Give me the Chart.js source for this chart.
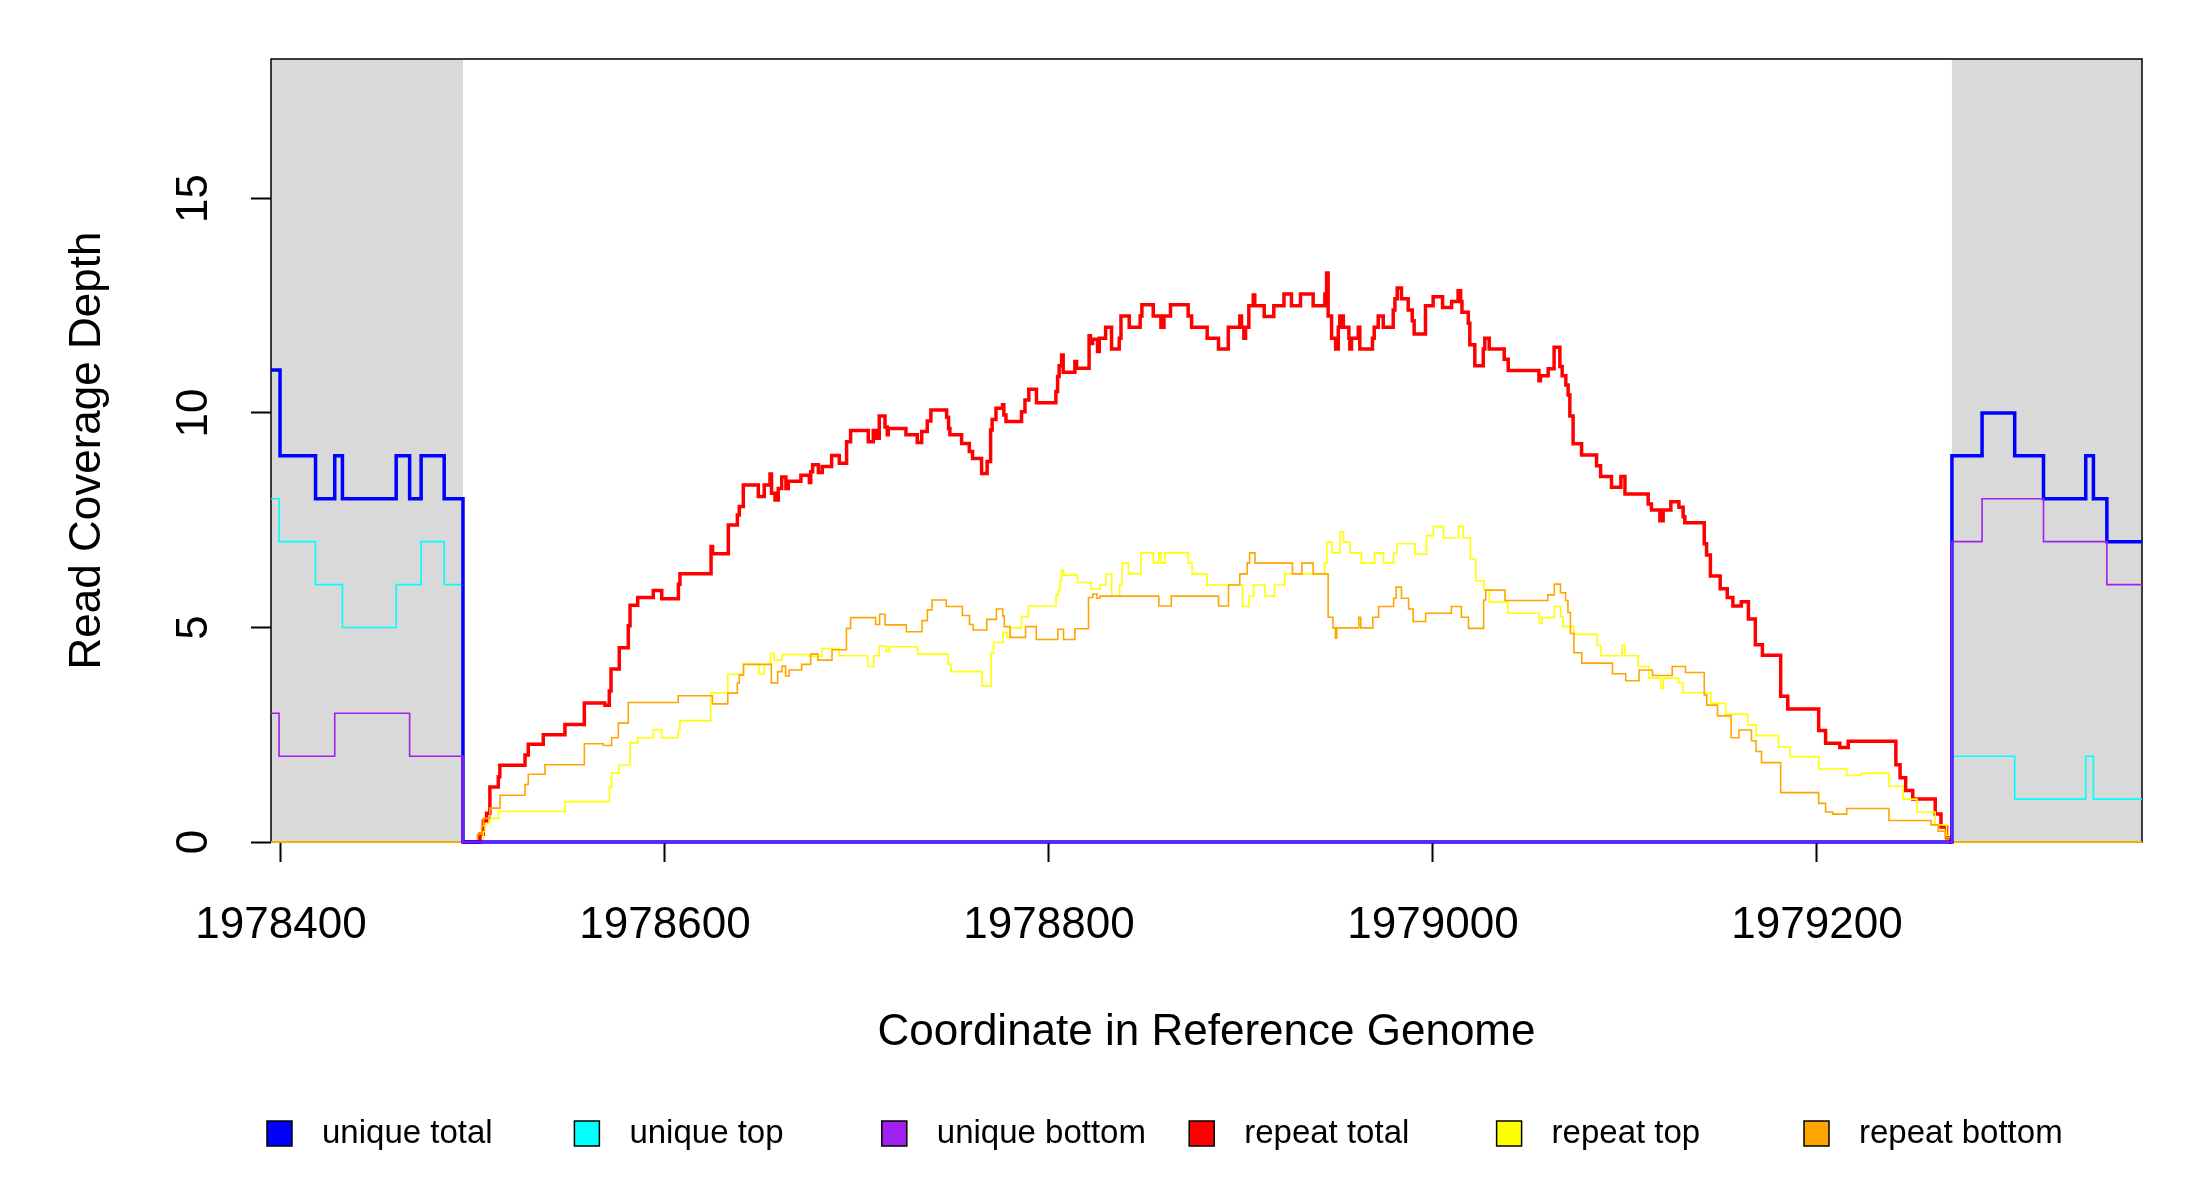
<!DOCTYPE html>
<html>
<head>
<meta charset="utf-8">
<script src="https://cdn.jsdelivr.net/npm/chart.js@4.4.0/dist/chart.umd.min.js"></script>
<style>
  html, body { margin:0; padding:0; background:#fff; }
  canvas { display:block; }
</style>
</head>
<body>
<canvas id="coverage" width="2200" height="1200"></canvas>
<script>
// genome positions below are bp offsets from this coordinate
const origin = 1978400;
const xLimits = [-5.2, 969.3];
const yLimits = [0, 18.25];
const xTicks = [0, 200, 400, 600, 800];
const yTicks = [0, 5, 10, 15];
const maskedRanges = [[-5.2, 94.8], [870.3, 969.3]];

const seriesNames  = ['unique total','unique top','unique bottom','repeat total','repeat top','repeat bottom'];
const seriesColors = ['#0000ff','#00ffff','#a020f0','#ff0000','#ffff00','#ffa500'];

// [offset, depth] pairs, step held until the next offset
const uniqueTotal = [[-5.2,11],[-0.5,9],[18,8],[28,9],[32,8],[60,9],[67,8],[73,9],[85,8],[94.8,0],
  [870.3,9],[886,10],[903,9],[918,8],[940,9],[944,8],[951,7],[969.3,7]];
const uniqueTop = [[-5.2,8],[-1,7],[18,6],[32,5],[60,6],[73,7],[85,6],[94.8,0],
  [870.3,2],[903,1],[940,2],[944,1],[969.3,1]];
const uniqueBottom = [[-5.2,3],[-1,2],[28,3],[67,2],[94.8,0],
  [870.3,7],[886,8],[918,7],[951,6],[969.3,6]];

const repeatTotal = [[94.8,0],[102.8,0],[103.6,0.18],[105.4,0.49],[107.1,0.67],[108.8,1.28],[113.2,1.52],[114.0,1.79],
  [127.1,2.03],[128.8,2.28],[136.6,2.50],[147.9,2.74],[158.0,3.24],[168.7,3.19],[171.0,3.52],[171.9,4.03],[176.2,4.53],
  [180.9,5.04],[181.8,5.52],[185.8,5.70],[193.9,5.86],[198.3,5.67],[207.0,6.01],[207.8,6.25],[224.0,6.89],[224.8,6.72],
  [233.0,7.39],[237.7,7.62],[238.7,7.82],[240.8,8.32],[248.6,8.05],[251.7,8.32],[254.7,8.58],[255.5,8.13],[257.3,7.97],
  [259.0,8.24],[260.8,8.51],[263.0,8.24],[264.2,8.41],[270.8,8.55],[275.2,8.38],[275.9,8.63],[276.9,8.79],[279.9,8.61],
  [281.9,8.75],[286.8,9.01],[290.8,8.83],[294.6,9.33],[296.7,9.59],[305.9,9.33],[308.5,9.59],[309.9,9.41],[311.6,9.93],
  [314.6,9.67],[315.8,9.49],[316.3,9.64],[325.5,9.49],[331.4,9.31],[333.7,9.57],[336.6,9.81],[338.5,10.07],[346.7,9.90],
  [347.7,9.64],[348.4,9.49],[354.5,9.29],[358.5,9.10],[360.2,8.94],[364.9,8.59],[367.8,8.87],[369.6,9.60],[370.4,9.85],
  [372.4,10.11],[375.8,10.19],[376.5,9.95],[377.6,9.80],[385.7,10.03],[387.5,10.30],[389.5,10.55],[393.5,10.24],
  [403.6,10.50],[404.5,10.85],[405.3,11.10],[406.6,11.35],[407.4,10.95],[413.5,11.20],[414.4,11.04],[420.9,11.80],
  [421.6,11.62],[422.7,11.72],[425.3,11.43],[426.2,11.74],[429.5,12.00],[432.6,11.49],[436.6,11.74],[437.5,12.26],
  [441.8,12.00],[447.5,12.26],[448.4,12.52],[454.3,12.26],[458.3,12.00],[459.9,12.26],[463.3,12.52],[472.5,12.26],
  [474.3,12.00],[482.4,11.74],[488.3,11.49],[493.4,12.00],[499.4,12.26],[500.3,12.00],[501.5,11.74],[502.4,12.00],
  [504.1,12.50],[506.4,12.75],[507.2,12.50],[512.1,12.25],[517.1,12.50],[522.4,12.77],[526.3,12.50],[531.0,12.77],
  [537.6,12.50],[543.7,12.77],[544.6,13.26],[545.4,12.26],[547.2,11.74],[549.3,11.49],[550.7,12.00],[551.5,12.26],
  [553.3,12.00],[556.2,11.74],[556.7,11.49],[557.6,11.74],[561.1,12.00],[561.9,11.49],[568.5,11.74],[569.4,12.00],
  [571.5,12.26],[574.1,12.00],[579.3,12.40],[580.2,12.66],[581.4,12.91],[583.6,12.66],[587.1,12.40],[589.2,12.15],
  [590.2,11.84],[596.1,12.50],[600.1,12.71],[605.0,12.46],[609.7,12.60],[613.1,12.85],[614.4,12.60],[615.1,12.35],
  [618.4,12.09],[619.2,11.59],[621.8,11.10],[626.2,11.49],[627.0,11.74],[629.3,11.49],[637.1,11.25],[639.2,10.99],
  [655.2,10.75],[656.0,10.87],[660.0,11.03],[663.1,11.53],[666.1,11.08],[667.3,10.87],[669.2,10.65],[670.4,10.42],
  [671.3,9.93],[673.0,9.28],[677.4,9.02],[685.2,8.77],[687.3,8.52],[693.0,8.27],[697.9,8.52],[700.0,8.11],[712.1,7.88],
  [713.8,7.74],[718.2,7.49],[719.9,7.74],[723.9,7.93],[728.1,7.80],[730.3,7.58],[731.2,7.44],[741.3,6.95],[742.5,6.69],
  [744.5,6.20],[749.6,5.90],[753.3,5.70],[756.2,5.50],[760.6,5.60],[764.3,5.20],[767.9,4.60],[771.6,4.35],[781.1,3.40],
  [784.8,3.10],[800.9,2.60],[804.5,2.30],[811.9,2.20],[816.3,2.35],[841.1,1.80],[843.3,1.50],[846.2,1.20],[849.9,1.00],
  [861.6,0.65],[864.6,0.35],[867.5,0.10],[869.7,0],[870.3,0]];

const repeatTop = [[-5.2,0],[105.4,0.24],[106.3,0.43],[108.8,0.55],[113.2,0.71],[148.0,0.94],[171.0,1.28],[172.2,1.61],
  [176.2,1.79],[181.8,2.31],[185.8,2.43],[193.9,2.62],[198.3,2.43],[206.9,2.62],[207.8,2.83],[223.8,3.48],[232.7,3.91],
  [240.9,4.14],[248.9,3.91],[251.7,4.14],[255.0,4.40],[256.9,4.24],[261.0,4.37],[274.9,4.33],[281.8,4.51],[290.7,4.34],
  [305.6,4.09],[308.8,4.34],[311.6,4.57],[315.3,4.44],[316.8,4.55],[331.7,4.38],[347.5,4.14],[349.0,3.97],[365.2,3.64],
  [369.8,4.40],[371.1,4.65],[376.0,4.88],[378.2,4.77],[380.0,4.99],[385.6,5.25],[389.3,5.50],[403.7,5.76],[404.8,5.86],
  [405.7,6.09],[406.6,6.34],[407.6,6.22],[414.8,6.05],[421.9,5.89],[426.5,5.99],[429.7,6.24],[432.7,5.73],[436.8,5.99],
  [438.1,6.50],[441.4,6.25],[447.9,6.74],[454.4,6.50],[457.2,6.74],[458.5,6.50],[460.4,6.74],[472.5,6.50],[474.5,6.25],
  [482.3,5.99],[500.8,5.49],[504.2,5.73],[506.6,5.99],[512.5,5.73],[517.5,5.99],[522.8,6.25],[543.6,6.50],[544.7,6.99],
  [547.5,6.74],[551.6,7.23],[553.4,6.99],[556.8,6.74],[562.7,6.50],[569.6,6.74],[574.3,6.50],[579.5,6.73],[581.3,6.95],
  [590.6,6.71],[596.6,7.14],[600.3,7.35],[605.5,7.09],[613.3,7.35],[615.8,7.09],[619.5,6.59],[622.3,6.09],[626.5,5.87],
  [629.3,5.59],[639.0,5.33],[655.4,5.10],[656.7,5.23],[663.2,5.49],[666.4,5.25],[667.8,5.02],[673.4,4.84],[685.5,4.58],
  [687.4,4.34],[698.5,4.58],[700.0,4.34],[706.9,4.09],[712.5,3.82],[718.6,3.58],[720.0,3.82],[727.9,3.70],[730.2,3.48],
  [744.7,3.23],[752.5,2.98],[764.0,2.73],[768.3,2.48],[780.0,2.22],[786.0,1.99],[800.9,1.70],[815.5,1.55],[822.8,1.60],
  [837.5,1.30],[844.8,1.00],[852.1,0.70],[861.6,0.40],[867.5,0.15],[869.7,0],[969.3,0]];

const repeatBottom = [[-5.2,0],[102.3,0.18],[104.5,0.37],[105.4,0.55],[108.8,0.79],[114.1,1.09],[127.1,1.34],[128.8,1.58],
  [137.5,1.80],[158.0,2.29],[167.9,2.25],[172.2,2.43],[175.7,2.77],[180.9,3.25],[206.9,3.41],[224.7,3.22],[232.7,3.47],
  [237.7,3.70],[238.7,3.89],[240.9,4.14],[255.4,3.71],[258.7,3.97],[261.0,4.10],[262.8,3.87],[264.7,4.01],[271.2,4.14],
  [275.9,4.38],[279.6,4.24],[287.0,4.48],[294.5,4.98],[296.7,5.23],[309.7,5.07],[311.8,5.31],[314.6,5.06],[325.7,4.90],
  [333.9,5.16],[336.7,5.41],[339.1,5.64],[346.5,5.49],[354.9,5.28],[358.6,5.07],[360.5,4.94],[367.6,5.19],[372.6,5.43],
  [375.9,5.27],[376.7,5.02],[379.7,4.77],[387.8,5.02],[393.4,4.72],[404.6,4.96],[407.6,4.72],[413.5,4.97],[420.6,5.70],
  [422.8,5.78],[425.0,5.68],[426.5,5.73],[457.2,5.50],[463.7,5.73],[488.3,5.50],[493.5,5.99],[499.4,6.25],[503.2,6.50],
  [504.5,6.74],[507.3,6.50],[526.8,6.25],[531.7,6.50],[537.6,6.25],[545.4,5.24],[547.9,4.99],[549.2,4.75],[549.9,4.99],
  [561.4,5.24],[562.4,4.99],[568.7,5.24],[571.7,5.49],[579.5,5.68],[580.8,5.94],[583.6,5.68],[587.3,5.43],[589.7,5.14],
  [596.2,5.33],[609.6,5.49],[614.8,5.24],[618.5,4.98],[626.4,5.64],[627.5,5.87],[637.5,5.63],[659.8,5.76],[663.2,6.01],
  [666.4,5.81],[669.1,5.63],[670.3,5.35],[671.6,4.86],[673.4,4.41],[677.5,4.17],[693.5,3.92],[700.4,3.76],[707.3,4.01],
  [714.3,3.88],[724.6,4.09],[731.5,3.95],[741.3,3.43],[742.6,3.19],[748.2,2.94],[755.3,2.43],[759.4,2.61],[765.9,2.36],
  [768.3,2.11],[771.1,1.85],[781.1,1.15],[800.9,0.90],[804.5,0.70],[808.2,0.65],[815.5,0.78],[837.5,0.50],[859.4,0.40],
  [863.1,0.25],[866.8,0.10],[869.7,0],[969.3,0]];

const seriesData = [uniqueTotal, uniqueTop, uniqueBottom, repeatTotal, repeatTop, repeatBottom];
const seriesWidth = [3.5, 1.6, 1.6, 3.5, 1.6, 1.6];
// purple over blue over cyan, then orange, yellow, red underneath
const seriesOrder = [1, 2, 0, 5, 4, 3];

const FONT = '"Liberation Sans", Arial, Helvetica, sans-serif';
Chart.defaults.font.family = FONT;
Chart.defaults.color = '#000';

const frame = {
  id: 'frame',
  beforeDatasetsDraw(chart) {
    const {ctx, chartArea: a, scales: {x}} = chart;
    ctx.save();
    ctx.fillStyle = '#d9d9d9';
    maskedRanges.forEach(([s, e]) => {
      const l = x.getPixelForValue(origin + s), r = x.getPixelForValue(origin + e);
      ctx.fillRect(l, a.top, r - l, a.bottom - a.top);
    });
    ctx.strokeStyle = '#000';
    ctx.lineWidth = 1.5;
    ctx.strokeRect(a.left, a.top, a.right - a.left, a.bottom - a.top);
    ctx.restore();
  },
  afterDraw(chart) {
    const {ctx, chartArea: a, scales: {y}} = chart;
    ctx.save();
    // R style y labels, parallel to the axis
    ctx.font = '44px ' + FONT;
    ctx.fillStyle = '#000';
    ctx.textAlign = 'center';
    ctx.textBaseline = 'middle';
    y.ticks.forEach(t => {
      ctx.save();
      ctx.translate(a.left - 76, y.getPixelForValue(t.value));
      ctx.rotate(-Math.PI / 2);
      ctx.fillText(String(t.value), 0, 0);
      ctx.restore();
    });
    // legend row
    ctx.font = '33px ' + FONT;
    ctx.textAlign = 'left';
    chart.data.datasets.forEach((ds, i) => {
      const bx = 267 + i * 307.4, by = 1121;
      ctx.fillStyle = ds.borderColor;
      ctx.fillRect(bx, by, 25, 25);
      ctx.strokeStyle = '#000';
      ctx.lineWidth = 1.5;
      ctx.strokeRect(bx, by, 25, 25);
      ctx.fillStyle = '#000';
      ctx.fillText(ds.label, bx + 55, by + 13);
    });
    ctx.restore();
  }
};

new Chart(document.getElementById('coverage'), {
  type: 'line',
  data: {
    datasets: seriesData.map((pts, i) => ({
      label: seriesNames[i],
      data: pts.map(([p, v]) => ({x: origin + p, y: v})),
      borderColor: seriesColors[i],
      backgroundColor: seriesColors[i],
      borderWidth: seriesWidth[i],
      stepped: 'before',
      fill: false,
      pointRadius: 0,
      order: seriesOrder[i],
      clip: {left: 0, right: 0, top: 0, bottom: 3}
    }))
  },
  options: {
    responsive: false,
    animation: false,
    devicePixelRatio: 1,
    layout: {padding: {left: 0, right: 58, top: 59, bottom: 0}},
    plugins: {legend: {display: false}, tooltip: {enabled: false}},
    scales: {
      x: {
        type: 'linear',
        min: origin + xLimits[0],
        max: origin + xLimits[1],
        afterBuildTicks: s => { s.ticks = xTicks.map(v => ({value: origin + v})); },
        afterFit: s => { s.height = 358; },
        border: {display: false},
        grid: {drawOnChartArea: false, drawTicks: true, tickLength: 20, tickColor: '#000', tickWidth: 2},
        ticks: {color: '#000', font: {size: 44}, padding: 37, maxRotation: 0, callback: v => String(v)},
        title: {display: true, text: 'Coordinate in Reference Genome', color: '#000',
                font: {size: 44}, padding: {top: 0, bottom: 141}}
      },
      y: {
        min: yLimits[0],
        max: yLimits[1],
        afterBuildTicks: s => { s.ticks = yTicks.map(v => ({value: v})); },
        afterFit: s => { s.width = 271; },
        border: {display: false},
        grid: {drawOnChartArea: false, drawTicks: true, tickLength: 20, tickColor: '#000', tickWidth: 2},
        ticks: {display: false},
        title: {display: true, text: 'Read Coverage Depth', color: '#000',
                font: {size: 44}, padding: {top: 61, bottom: 0}}
      }
    }
  },
  plugins: [frame]
});
</script>
</body>
</html>
